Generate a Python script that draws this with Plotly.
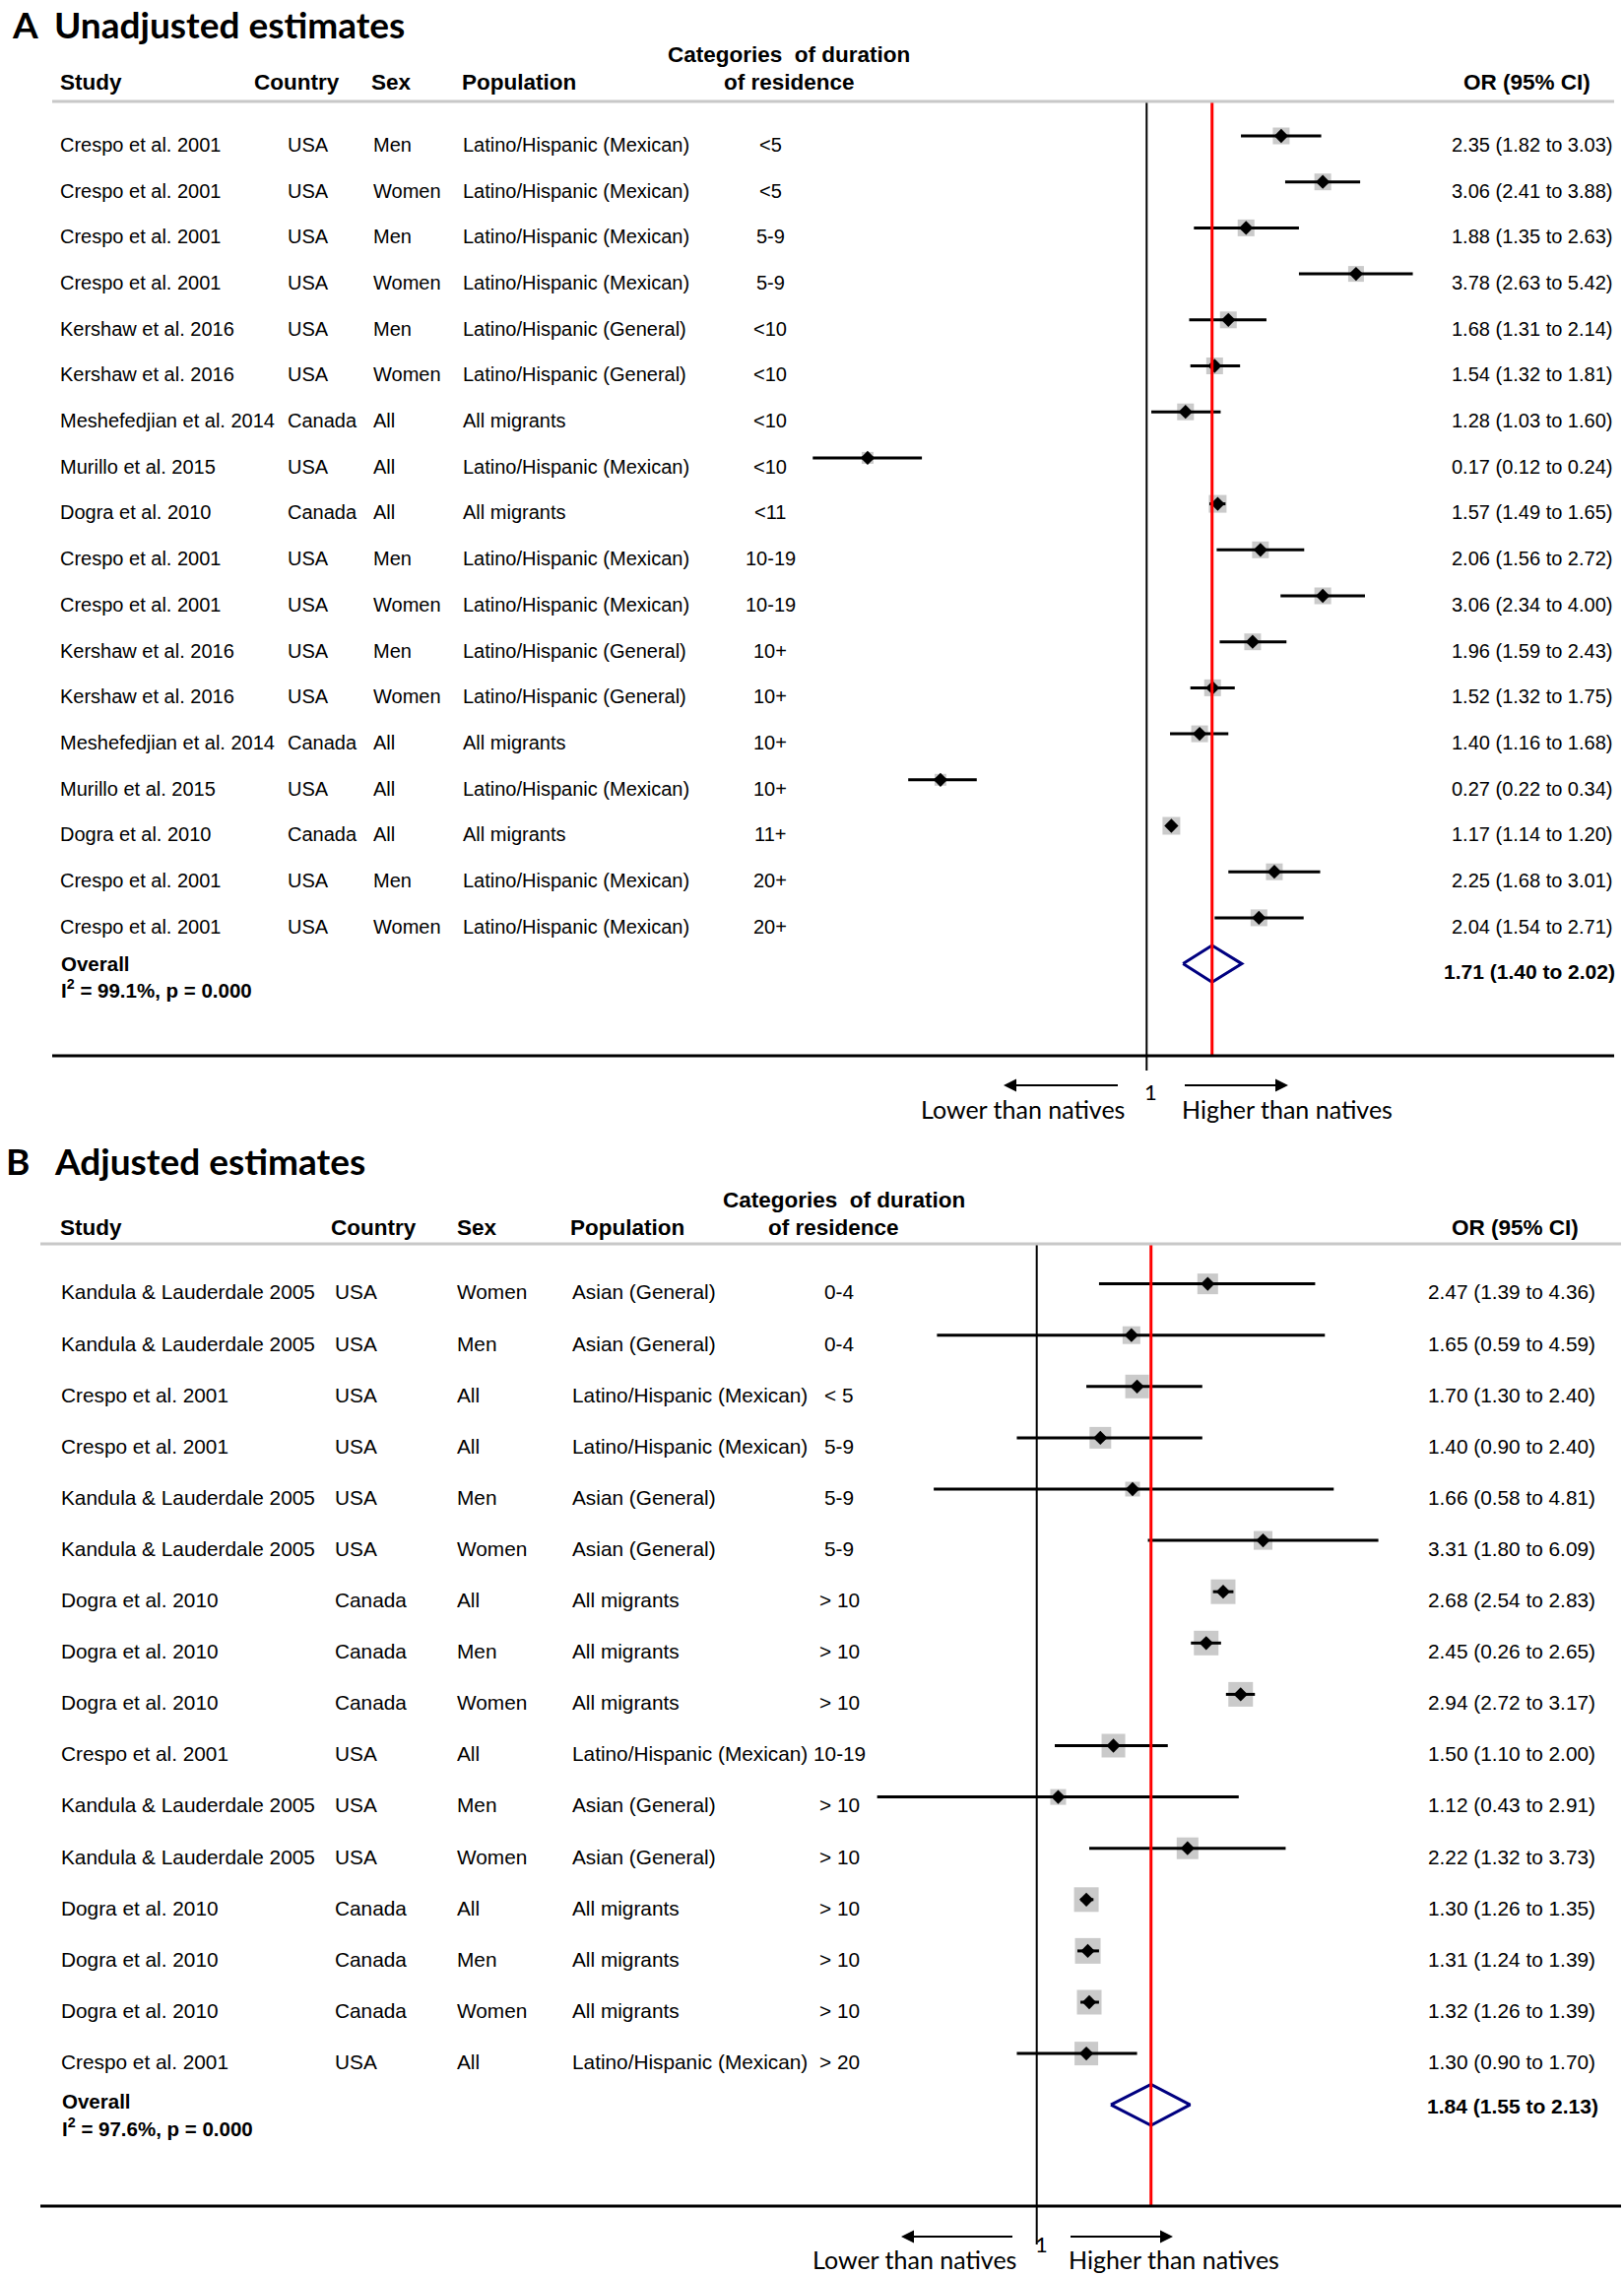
import math
import plotly.graph_objects as go

W, H = 1649, 2311

# ---------------- Panel A data (unadjusted) ----------------
study_a = ["Crespo et al. 2001", "Crespo et al. 2001", "Crespo et al. 2001", "Crespo et al. 2001",
           "Kershaw et al. 2016", "Kershaw et al. 2016", "Meshefedjian et al. 2014", "Murillo et al. 2015",
           "Dogra et al. 2010", "Crespo et al. 2001", "Crespo et al. 2001", "Kershaw et al. 2016",
           "Kershaw et al. 2016", "Meshefedjian et al. 2014", "Murillo et al. 2015", "Dogra et al. 2010",
           "Crespo et al. 2001", "Crespo et al. 2001"]
country_a = ["USA", "USA", "USA", "USA", "USA", "USA", "Canada", "USA", "Canada",
             "USA", "USA", "USA", "USA", "Canada", "USA", "Canada", "USA", "USA"]
sex_a = ["Men", "Women", "Men", "Women", "Men", "Women", "All", "All", "All",
         "Men", "Women", "Men", "Women", "All", "All", "All", "Men", "Women"]
pop_a = ["Latino/Hispanic (Mexican)", "Latino/Hispanic (Mexican)", "Latino/Hispanic (Mexican)",
         "Latino/Hispanic (Mexican)", "Latino/Hispanic (General)", "Latino/Hispanic (General)",
         "All migrants", "Latino/Hispanic (Mexican)", "All migrants", "Latino/Hispanic (Mexican)",
         "Latino/Hispanic (Mexican)", "Latino/Hispanic (General)", "Latino/Hispanic (General)",
         "All migrants", "Latino/Hispanic (Mexican)", "All migrants", "Latino/Hispanic (Mexican)",
         "Latino/Hispanic (Mexican)"]
dur_a = ["<5", "<5", "5-9", "5-9", "<10", "<10", "<10", "<10", "<11",
         "10-19", "10-19", "10+", "10+", "10+", "10+", "11+", "20+", "20+"]
or_a = [2.35, 3.06, 1.88, 3.78, 1.68, 1.54, 1.28, 0.17, 1.57, 2.06, 3.06, 1.96, 1.52, 1.40, 0.27, 1.17, 2.25, 2.04]
lo_a = [1.82, 2.41, 1.35, 2.63, 1.31, 1.32, 1.03, 0.12, 1.49, 1.56, 2.34, 1.59, 1.32, 1.16, 0.22, 1.14, 1.68, 1.54]
hi_a = [3.03, 3.88, 2.63, 5.42, 2.14, 1.81, 1.60, 0.24, 1.65, 2.72, 4.00, 2.43, 1.75, 1.68, 0.34, 1.20, 3.01, 2.71]
box_a = [17, 17, 17, 16, 17, 17, 17, 12, 18, 17, 17, 17, 17, 17, 12, 18, 17, 17]
pooled_a_text = "1.71 (1.40 to 2.02)"
pooled_a_drawn = [1.26, 1.515, 1.83]   # diamond as drawn in the figure (lo, centre, hi)
het_a = "I<sup>2</sup> = 99.1%, p = 0.000"

# ---------------- Panel B data (adjusted) ----------------
study_b = ["Kandula & Lauderdale 2005", "Kandula & Lauderdale 2005", "Crespo et al. 2001", "Crespo et al. 2001",
           "Kandula & Lauderdale 2005", "Kandula & Lauderdale 2005", "Dogra et al. 2010", "Dogra et al. 2010",
           "Dogra et al. 2010", "Crespo et al. 2001", "Kandula & Lauderdale 2005", "Kandula & Lauderdale 2005",
           "Dogra et al. 2010", "Dogra et al. 2010", "Dogra et al. 2010", "Crespo et al. 2001"]
country_b = ["USA", "USA", "USA", "USA", "USA", "USA", "Canada", "Canada", "Canada",
             "USA", "USA", "USA", "Canada", "Canada", "Canada", "USA"]
sex_b = ["Women", "Men", "All", "All", "Men", "Women", "All", "Men", "Women",
         "All", "Men", "Women", "All", "Men", "Women", "All"]
pop_b = ["Asian (General)", "Asian (General)", "Latino/Hispanic (Mexican)", "Latino/Hispanic (Mexican)",
         "Asian (General)", "Asian (General)", "All migrants", "All migrants", "All migrants",
         "Latino/Hispanic (Mexican)", "Asian (General)", "Asian (General)", "All migrants", "All migrants",
         "All migrants", "Latino/Hispanic (Mexican)"]
dur_b = ["0-4", "0-4", "< 5", "5-9", "5-9", "5-9", "> 10", "> 10", "> 10",
         "10-19", "> 10", "> 10", "> 10", "> 10", "> 10", "> 20"]
or_b = [2.47, 1.65, 1.70, 1.40, 1.66, 3.31, 2.68, 2.45, 2.94, 1.50, 1.12, 2.22, 1.30, 1.31, 1.32, 1.30]
lo_b = [1.39, 0.59, 1.30, 0.90, 0.58, 1.80, 2.54, 2.26, 2.72, 1.10, 0.43, 1.32, 1.26, 1.24, 1.26, 0.90]
hi_b = [4.36, 4.59, 2.40, 2.40, 4.81, 6.09, 2.83, 2.65, 3.17, 2.00, 2.91, 3.73, 1.35, 1.39, 1.39, 1.70]
ci_text_b = ["2.47 (1.39 to 4.36)", "1.65 (0.59 to 4.59)", "1.70 (1.30 to 2.40)", "1.40 (0.90 to 2.40)",
             "1.66 (0.58 to 4.81)", "3.31 (1.80 to 6.09)", "2.68 (2.54 to 2.83)", "2.45 (0.26 to 2.65)",
             "2.94 (2.72 to 3.17)", "1.50 (1.10 to 2.00)", "1.12 (0.43 to 2.91)", "2.22 (1.32 to 3.73)",
             "1.30 (1.26 to 1.35)", "1.31 (1.24 to 1.39)", "1.32 (1.26 to 1.39)", "1.30 (0.90 to 1.70)"]
box_b = [21, 18, 24, 22, 15, 19, 25, 25, 25, 24, 16, 22, 25, 26, 25, 24]
pooled_b_text = "1.84 (1.55 to 2.13)"
pooled_b_drawn = [1.48, 1.83, 2.25]
het_b = "I<sup>2</sup> = 97.6%, p = 0.000"

ci_text_a = [f"{o:.2f} ({l:.2f} to {h:.2f})" for o, l, h in zip(or_a, lo_a, hi_a)]

# ---------------- layout geometry (pixels) ----------------
LN10 = math.log(10)
A = dict(x1=1164.3, k=159.9, row0=138.0, step=46.7)
B = dict(x1=1052.7, k=192.0, row0=1303.6, step=52.1)


def xr(g):
    return [-g["x1"] / g["k"] / LN10, (W - g["x1"]) / g["k"] / LN10]


def yr(g):
    return [(H - g["row0"]) / g["step"], -g["row0"] / g["step"]]


def rowpos(g, py):
    return (py - g["row0"]) / g["step"]


def px(x):
    return x / W


def py(y):
    return 1 - y / H


ROWFONT = "Liberation Sans, Arial, sans-serif"
CALI = "Lato, Carlito, Calibri, sans-serif"
GREY_BOX = "#b3b3b3"
NAVY = "#000080"
RED = "#ff0000"

fig = go.Figure()
annotations = []
shapes = []


def add_panel(g, xa, ya, est, lo, hi, boxes, pooled, ci_text, pooled_text, het,
              study, country, sex, pop, dur, cols, text_off, rowsize, header, title, arrows):
    n = len(est)
    rows = list(range(n))
    # boxes
    fig.add_trace(go.Scatter(x=est, y=rows, mode="markers", xaxis=xa, yaxis=ya,
                             marker=dict(symbol="square", size=boxes, color=GREY_BOX, line=dict(width=0)),
                             hoverinfo="skip"))
    # CI lines
    cx, cy = [], []
    for i in rows:
        cx += [lo[i], hi[i], None]
        cy += [i, i, None]
    fig.add_trace(go.Scatter(x=cx, y=cy, mode="lines", xaxis=xa, yaxis=ya,
                             line=dict(color="black", width=3), hoverinfo="skip"))
    # point estimates
    fig.add_trace(go.Scatter(x=est, y=rows, mode="markers", xaxis=xa, yaxis=ya,
                             marker=dict(symbol="diamond", size=11, color="black", line=dict(width=0)),
                             hoverinfo="skip"))
    # null line
    fig.add_trace(go.Scatter(x=[1, 1], y=[rowpos(g, header["line_y"]), rowpos(g, header["null_end"])],
                             mode="lines", xaxis=xa, yaxis=ya, line=dict(color="black", width=2),
                             hoverinfo="skip"))
    # pooled diamond
    plo, pc, phi = pooled
    fig.add_trace(go.Scatter(x=[plo, pc, phi, pc, plo], y=[n, n - 0.4, n, n + 0.4, n],
                             mode="lines", xaxis=xa, yaxis=ya, line=dict(color=NAVY, width=3),
                             hoverinfo="skip"))
    # red pooled line
    fig.add_trace(go.Scatter(x=[pc, pc], y=[rowpos(g, header["line_y"]), rowpos(g, header["bottom_y"])],
                             mode="lines", xaxis=xa, yaxis=ya, line=dict(color=RED, width=3),
                             hoverinfo="skip"))

    yref = "y" if ya == "y" else "y2"

    def txt(x, y, s, anchor="left", size=rowsize, family=ROWFONT, yref_=yref):
        annotations.append(dict(x=x, y=y, xref="paper", yref=yref_, text=s, showarrow=False,
                                xanchor=anchor, yanchor="middle",
                                font=dict(family=family, size=size, color="black")))

    for i in rows:
        y = i + text_off
        txt(px(cols["study"]), y, study[i])
        txt(px(cols["country"]), y, country[i])
        txt(px(cols["sex"]), y, sex[i])
        txt(px(cols["pop"]), y, pop[i])
        txt(px(cols["dur"]), y, dur[i], anchor="center")
        txt(px(cols["or"]), y, ci_text[i], anchor="right")
    # overall
    txt(px(cols["study"] + 1), rowpos(g, header["overall_y"]), "<b>Overall</b>", size=20.5)
    txt(px(cols["study"] + 1), rowpos(g, header["het_y"]), "<b>" + het + "</b>", size=20.5)
    txt(px(cols["or"] + 3), rowpos(g, header["pooled_y"]), "<b>" + pooled_text + "</b>",
        anchor="right", size=21)

    # headers (paper)
    def htxt(x, y, s, anchor="left"):
        annotations.append(dict(x=px(x), y=py(y), xref="paper", yref="paper", text="<b>" + s + "</b>",
                                showarrow=False, xanchor=anchor, yanchor="middle",
                                font=dict(family=ROWFONT, size=22.5, color="black")))

    hy = header["y2"]
    htxt(header["study"], hy, "Study")
    htxt(header["country"], hy, "Country")
    htxt(header["sex"], hy, "Sex")
    htxt(header["pop"], hy, "Population")
    htxt(header["cat"], header["y1"], "Categories  of duration", "center")
    htxt(header["cat2"], hy, "of residence", "center")
    htxt(header["or"], hy, "OR (95% CI)", "right")

    shapes.append(dict(type="line", xref="paper", yref="paper", x0=px(header["lx0"]), x1=px(header["lx1"]),
                       y0=py(header["line_y"]), y1=py(header["line_y"]),
                       line=dict(color="#c8c8c8", width=3)))
    shapes.append(dict(type="line", xref="paper", yref="paper", x0=px(header["lx0"]), x1=px(header["lx1"]),
                       y0=py(header["bottom_y"]), y1=py(header["bottom_y"]),
                       line=dict(color="black", width=3)))

    # title
    annotations.append(dict(x=px(title["x"]), y=py(title["y"]), xref="paper", yref="paper",
                            text="<b>" + title["letter"] + "</b>", showarrow=False, xanchor="left",
                            yanchor="middle", font=dict(family=CALI, size=37, color="black")))
    annotations.append(dict(x=px(title["x2"]), y=py(title["y"]), xref="paper", yref="paper",
                            text="<b>" + title["text"] + "</b>", showarrow=False, xanchor="left",
                            yanchor="middle", font=dict(family=CALI, size=37, color="black")))

    # arrows and direction labels
    ay_ = arrows["y"]
    for head, tail in [(arrows["lhead"], arrows["ltail"]), (arrows["rhead"], arrows["rtail"])]:
        annotations.append(dict(x=px(head), y=py(ay_), xref="paper", yref="paper", text=" ",
                                showarrow=True, axref="pixel", ayref="pixel", ax=tail - head, ay=0,
                                arrowhead=2, arrowsize=1.3, arrowwidth=2, arrowcolor="black",
                                font=dict(size=2)))
    annotations.append(dict(x=px(arrows["one_x"]), y=py(arrows["one_y"]), xref="paper", yref="paper",
                            text="1", showarrow=False, xanchor="center", yanchor="middle",
                            font=dict(family=CALI, size=22, color="black")))
    annotations.append(dict(x=px(arrows["lc"]), y=py(arrows["ly"]), xref="paper", yref="paper",
                            text="Lower than natives", showarrow=False, xanchor="center", yanchor="middle",
                            font=dict(family=CALI, size=25, color="black")))
    annotations.append(dict(x=px(arrows["rc"]), y=py(arrows["ly"]), xref="paper", yref="paper",
                            text="Higher than natives", showarrow=False, xanchor="center", yanchor="middle",
                            font=dict(family=CALI, size=25, color="black")))


add_panel(A, "x", "y", or_a, lo_a, hi_a, box_a, pooled_a_drawn, ci_text_a, pooled_a_text, het_a,
          study_a, country_a, sex_a, pop_a, dur_a,
          cols=dict(study=59, country=290, sex=377, pop=468, dur=782, **{"or": 1639}),
          text_off=0.19, rowsize=20,
          header=dict(y1=56, y2=84, study=59, country=256, sex=375, pop=467, cat=801, cat2=801,
                      **{"or": 1617}, line_y=103, bottom_y=1072, null_end=1087, lx0=53, lx1=1639,
                      overall_y=978, het_y=1004, pooled_y=986),
          title=dict(letter="A", text="Unadjusted estimates", x=10, x2=53, y=25),
          arrows=dict(y=1102, lhead=1019, ltail=1137, rhead=1308, rtail=1201, one_x=1168, one_y=1108,
                      lc=1038, rc=1307, ly=1126))

add_panel(B, "x2", "y2", or_b, lo_b, hi_b, box_b, pooled_b_drawn, ci_text_b, pooled_b_text, het_b,
          study_b, country_b, sex_b, pop_b, dur_b,
          cols=dict(study=60, country=338, sex=462, pop=579, dur=852, **{"or": 1622}),
          text_off=0.16, rowsize=20.8,
          header=dict(y1=1218, y2=1246, study=59, country=334, sex=462, pop=577, cat=857, cat2=847,
                      **{"or": 1605}, line_y=1263, bottom_y=2240, null_end=2279, lx0=41, lx1=1646,
                      overall_y=2133, het_y=2160, pooled_y=2138),
          title=dict(letter="B", text="Adjusted estimates", x=4, x2=53, y=1178),
          arrows=dict(y=2271, lhead=915, ltail=1030, rhead=1191, rtail=1085, one_x=1057, one_y=2278,
                      lc=928, rc=1192, ly=2294))

fig.update_layout(
    width=W, height=H, margin=dict(l=0, r=0, t=0, b=0),
    paper_bgcolor="white", plot_bgcolor="white", showlegend=False,
    xaxis=dict(type="log", range=xr(A), domain=[0, 1], visible=False, fixedrange=True),
    yaxis=dict(range=yr(A), domain=[0, 1], visible=False, fixedrange=True),
    xaxis2=dict(type="log", range=xr(B), overlaying="x", visible=False, fixedrange=True),
    yaxis2=dict(range=yr(B), overlaying="y", visible=False, fixedrange=True),
    annotations=annotations, shapes=shapes,
)

fig.write_html("out.html", config={"displayModeBar": False},
               post_script="document.body.style.margin='0px';document.body.style.padding='0px';")
